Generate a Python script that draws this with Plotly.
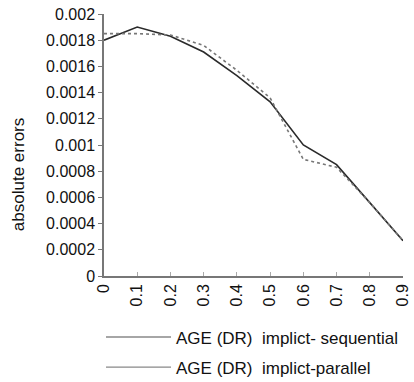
import plotly.graph_objects as go

x_vals = [0, 0.1, 0.2, 0.3, 0.4, 0.5, 0.6, 0.7, 0.8, 0.9]
x_labels = ["0", "0.1", "0.2", "0.3", "0.4", "0.5", "0.6", "0.7", "0.8", "0.9"]
sequential = [0.00180, 0.00190, 0.00183, 0.00171, 0.00153, 0.00133, 0.00100, 0.00085, 0.00056, 0.00027]
parallel = [0.00185, 0.00185, 0.00184, 0.00176, 0.00157, 0.00136, 0.00089, 0.00083, 0.00056, 0.00027]
y_ticks = [0, 0.0002, 0.0004, 0.0006, 0.0008, 0.001, 0.0012, 0.0014, 0.0016, 0.0018, 0.002]
y_labels = ["0", "0.0002", "0.0004", "0.0006", "0.0008", "0.001", "0.0012", "0.0014", "0.0016", "0.0018", "0.002"]
names = ["AGE (DR)  implict- sequential", "AGE (DR)  implict-parallel"]

fig = go.Figure()
fig.add_trace(go.Scatter(x=x_vals, y=sequential, mode="lines",
                         line=dict(color="#2a2a2a", width=1.6), showlegend=False))
fig.add_trace(go.Scatter(x=x_vals, y=parallel, mode="lines",
                         line=dict(color="#777777", width=1.6, dash="dot"), showlegend=False))
for i, n in enumerate(names):
    fig.add_trace(go.Scatter(x=[None], y=[None], mode="lines", name=n,
                             legendgroup=f"g{i}",
                             line=dict(color="#888888", width=1.4)))

fig.update_layout(
    width=414, height=382,
    margin=dict(l=104, r=11, t=14, b=106, autoexpand=False),
    paper_bgcolor="white", plot_bgcolor="white",
    font=dict(family="Liberation Sans, Arial, sans-serif", size=16, color="#111111"),
    legend=dict(x=-0.01, y=-0.166, xanchor="left", yanchor="top",
                itemwidth=65, tracegroupgap=5, traceorder="grouped",
                font=dict(size=17), bgcolor="rgba(0,0,0,0)"),
    annotations=[dict(text="absolute errors", xref="paper", yref="paper",
                      x=(18 - 104) / 299, y=0.385, textangle=-90, showarrow=False,
                      font=dict(size=17), xanchor="center", yanchor="middle")],
)
fig.update_xaxes(range=[0, 0.9], tickvals=x_vals, ticktext=x_labels, tickangle=-90,
                 showline=True, linecolor="#777777", linewidth=1.5, ticks="inside",
                 ticklen=4, tickcolor="#aaaaaa", showgrid=False, zeroline=False)
fig.update_yaxes(range=[0, 0.002], tickvals=y_ticks, ticktext=y_labels,
                 showline=True, linecolor="#777777", linewidth=1.5, ticks="outside",
                 ticklen=4, tickcolor="#777777", showgrid=False, zeroline=False)

fig.write_html("out.html")
